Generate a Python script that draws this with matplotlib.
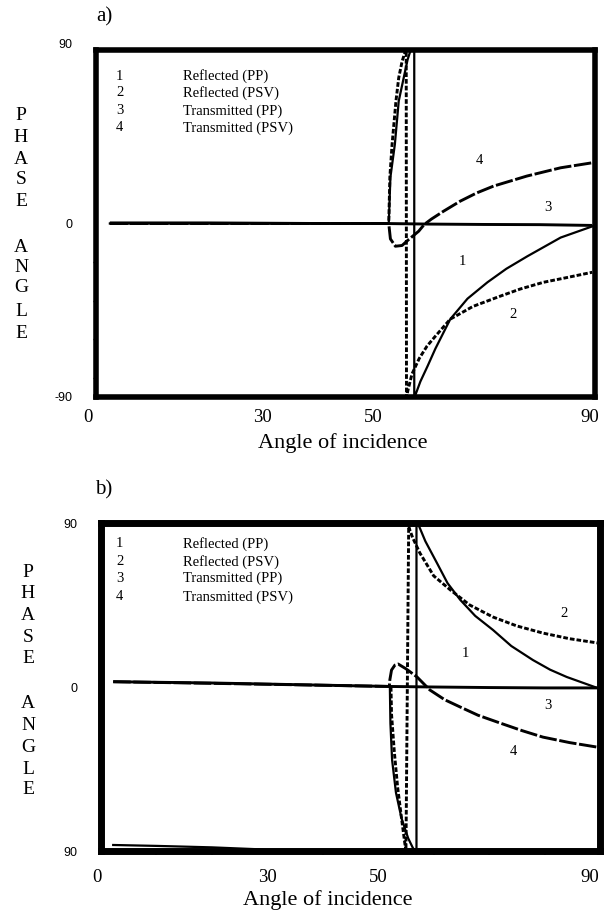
import matplotlib
matplotlib.use("Agg")
import matplotlib.pyplot as plt
import matplotlib.transforms as mtransforms
import numpy as np

nan = np.nan

# ---------------- shared text ----------------
x_ticks = [0, 30, 50, 90]
x_tick_labels = ["0", "30", "50", "90"]
legend_numbers = ["1", "2", "3", "4"]
legend_names = ["Reflected (PP)", "Reflected (PSV)", "Transmitted (PP)", "Transmitted (PSV)"]
x_label = "Angle of incidence"
y_label_top = list("PHASE")
y_label_bottom = list("ANGLE")

# ---------------- panel a data ----------------
a_yticks = [90, 0, -90]
a_ytick_labels = ["90", "0", "-90"]
a1_x = [2.5, 30, 52.8, 53.1, 53.9, 54.6, 55.5, 56.2, 56.7, 57.4, 57.4, 57.6, 58.5, 59.8, 61.2, 63.9, 67.0, 70.6, 74.0, 77.8, 83.8, 89.5]
a1_y = [0, 0, 0, 24, 41, 63.5, 75.6, 85, 89.5, 90, -90, -89, -82, -74, -65, -49.6, -39, -30.5, -23.5, -17, -7.3, -1.5]
a2_x = [2.5, 30, 52.8, 53.0, 53.4, 54.1, 54.6, 55.2, 55.8, 55.95, 56.0, 56.3, 57.0, 58.3, 59.7, 61.2, 63.9, 68.0, 72.9, 76.5, 80.7, 85.0, 89.5]
a2_y = [0, 0, 0, 24, 41, 63.5, 75.6, 84, 89.5, 90, -90, -86, -78, -70, -63.6, -58.5, -49.6, -43, -37.7, -34, -30.5, -28, -25.3]
a3_x = [2.5, 20, 40, 52, 60, 70, 80, 89.5]
a3_y = [0.3, 0.3, 0, 0, -0.3, -0.5, -0.6, -1.0]
a4_x = [2.5, 30, 52.8, 53.1, 54.0, 55.2, 56.4, 58.2, 59.2, 60.5, 62.7, 65.7, 68.7, 71.7, 77.7, 83.8, 89.5]
a4_y = [0, 0, 0, -8, -11.8, -11.4, -8.3, -4, -0.5, 2.3, 6.4, 11.6, 15.9, 19.4, 24.6, 28.9, 31.5]
a_curve_label_x = [66.1, 75.3, 81.5, 69.1]
a_curve_label_y = [-19.9, -47.2, 8.5, 32.7]

# ---------------- panel b data ----------------
b_yticks = [90, 0, -90]
b_ytick_labels = ["90", "0", "90"]
b1_x = [2.2, 10, 20, 28, 32, nan, 52.1, 52.2, 52.5, 53.2, 54.2, 55.4, 56.2, 56.6, 56.9, 56.9, 57.4, 58.5, 60.6, 62.5, 64.8, 67.5, 70.7, 74.0, 77.9, 81.0, 84.0, 89.5]
b1_y = [-86.7, -87.2, -88, -89, -90, nan, 0, -20, -40, -58, -72, -83, -88, -90, -90, 90, 88, 80, 68, 57, 47.8, 39, 31.3, 22.5, 14.8, 9.5, 5.5, -0.5]
b2_x = [52.3, 52.4, 52.9, 53.5, 54.2, 54.8, 55.0, 55.5, 55.6, 56.2, 57.5, 60.0, 63.0, 66.5, 70.7, 75.0, 79.7, 84.5, 89.5]
b2_y = [0, -15, -35.5, -55, -72, -85.8, -90, 90, 87, 82, 73.6, 61, 53.3, 45, 38.4, 33.5, 29.6, 26.5, 24.2]
b3_x = [2.2, 20, 40, 52, 60, 70, 80, 89.5]
b3_y = [2.9, 2.2, 1.0, 0.3, 0, -0.3, -0.5, -0.5]
b4_x = [2.2, 30, 52.0, 52.1, 52.4, 53.0, 53.6, 55.0, 57.0, 59.3, 62.0, 64.8, 68.0, 72.0, 76.0, 79.7, 84.5, 89.5]
b4_y = [2.9, 1.5, 0.3, 4, 9.3, 12, 12.6, 10, 5.5, -1.6, -7, -11, -15.5, -19.8, -24, -27.5, -30.5, -33]
b_curve_label_x = [65.7, 83.5, 80.6, 74.4]
b_curve_label_y = [18.5, 40.5, -10.4, -35.5]

W, H = 606, 913
fig = plt.figure(figsize=(W / 100, H / 100), dpi=100)
fig.patch.set_facecolor("white")

SERIF = ["Liberation Serif", "DejaVu Serif"]
SANS = ["Liberation Sans", "DejaVu Sans"]


def px(x, y):
    return x / W, 1 - y / H


def make_panel(rect, curves, label_xy, yticks, ytick_labels, spine_lw, xpad, minor_x, minor_y,
               leg_rows_y, legend_x_num, legend_x_txt):
    ax = fig.add_axes(rect)
    ax.set_xlim(0, 90)
    ax.set_ylim(-90, 90)
    (c1x, c1y), (c2x, c2y), (c3x, c3y), (c4x, c4y) = curves
    ax.plot(c3x, c3y, color="black", lw=2.1, solid_capstyle="butt")
    ax.plot(c4x, c4y, color="black", lw=2.1, linestyle=(0, (6, 0.9)))
    ax.plot(c2x, c2y, color="black", lw=2.1, linestyle=(0, (1.6, 0.7)))
    ax.plot(c1x, c1y, color="black", lw=1.6)
    for s in ax.spines.values():
        s.set_linewidth(spine_lw)
        s.set_color("black")
    ax.set_xticks(x_ticks)
    ax.set_xticklabels(x_tick_labels, fontfamily=SERIF, fontsize=13.5)
    ax.tick_params(axis="x", length=0, pad=xpad)
    ax.set_yticks(yticks)
    ax.set_yticklabels(ytick_labels, fontfamily=SANS, fontsize=9)
    ax.tick_params(axis="y", length=0, pad=17)
    if minor_x is not None:
        ax.set_xticks(minor_x, minor=True)
        ax.tick_params(axis="x", which="minor", length=3, width=1.2, direction="out")
    if minor_y is not None:
        ax.set_yticks(minor_y, minor=True)
        ax.tick_params(axis="y", which="minor", length=2, width=1.0, direction="out")
    for i in range(4):
        ax.text(legend_x_num, leg_rows_y[i], legend_numbers[i], fontfamily=SERIF, fontsize=10.5,
                ha="center", va="center")
        ax.text(legend_x_txt, leg_rows_y[i], legend_names[i], fontfamily=SERIF, fontsize=10.5,
                ha="left", va="center")
    lx, ly = label_xy
    for i in range(4):
        ax.text(lx[i], ly[i], legend_numbers[i], fontfamily=SERIF, fontsize=10.5,
                ha="center", va="center")
    ax.set_facecolor("white")
    return ax


ax_a = make_panel([96 / W, 1 - 397 / H, 499 / W, 347 / H],
                  [(a1_x, a1_y), (a2_x, a2_y), (a3_x, a3_y), (a4_x, a4_y)],
                  (a_curve_label_x, a_curve_label_y), a_yticks, a_ytick_labels, 4.0, 9,
                  None, [-80, -60, -40, -20],
                  [76.5, 67.7, 58.4, 49.6], 4.3, 15.7)
ax_b = make_panel([101 / W, 1 - 851 / H, 499 / W, 328 / H],
                  [(b1_x, b1_y), (b2_x, b2_y), (b3_x, b3_y), (b4_x, b4_y)],
                  (b_curve_label_x, b_curve_label_y), b_yticks, b_ytick_labels, 5.0, 13,
                  [10, 20, 40, 60, 70, 80], None,
                  [78.5, 68.6, 59.8, 49.4], 3.4, 14.8)

for ax, dx0, dx9 in [(ax_a, -8, -5), (ax_b, -4, -10)]:
    labs = ax.get_xticklabels()
    labs[0].set_transform(labs[0].get_transform() + mtransforms.ScaledTranslation(dx0 / 100, 0, fig.dpi_scale_trans))
    labs[-1].set_transform(labs[-1].get_transform() + mtransforms.ScaledTranslation(dx9 / 100, 0, fig.dpi_scale_trans))
labs = ax_a.get_yticklabels()
labs[0].set_transform(labs[0].get_transform() + mtransforms.ScaledTranslation(0, 6 / 100, fig.dpi_scale_trans))

fig.text(*px(104, 17), "a)", fontfamily=SERIF, fontsize=15, ha="center", va="center")
fig.text(*px(104, 490), "b)", fontfamily=SERIF, fontsize=15, ha="center", va="center")
fig.text(*px(343, 443), x_label, fontfamily=SERIF, fontsize=16, ha="center", va="center")
fig.text(*px(328, 900), x_label, fontfamily=SERIF, fontsize=16, ha="center", va="center")

a_top_rows = [115, 137, 159, 180, 202]
a_bot_rows = [247, 267, 288, 311, 333]
b_top_rows = [572, 593, 615, 637, 658]
b_bot_rows = [703, 725, 747, 769, 790]
for rows, letters, xc in [(a_top_rows, y_label_top, 21), (a_bot_rows, y_label_bottom, 21),
                          (b_top_rows, y_label_top, 28), (b_bot_rows, y_label_bottom, 28)]:
    for r, ch in zip(rows, letters):
        fig.text(*px(xc, r), ch, fontfamily=SERIF, fontsize=14, ha="center", va="center")

fig.savefig("out.png", dpi=100, facecolor="white")
